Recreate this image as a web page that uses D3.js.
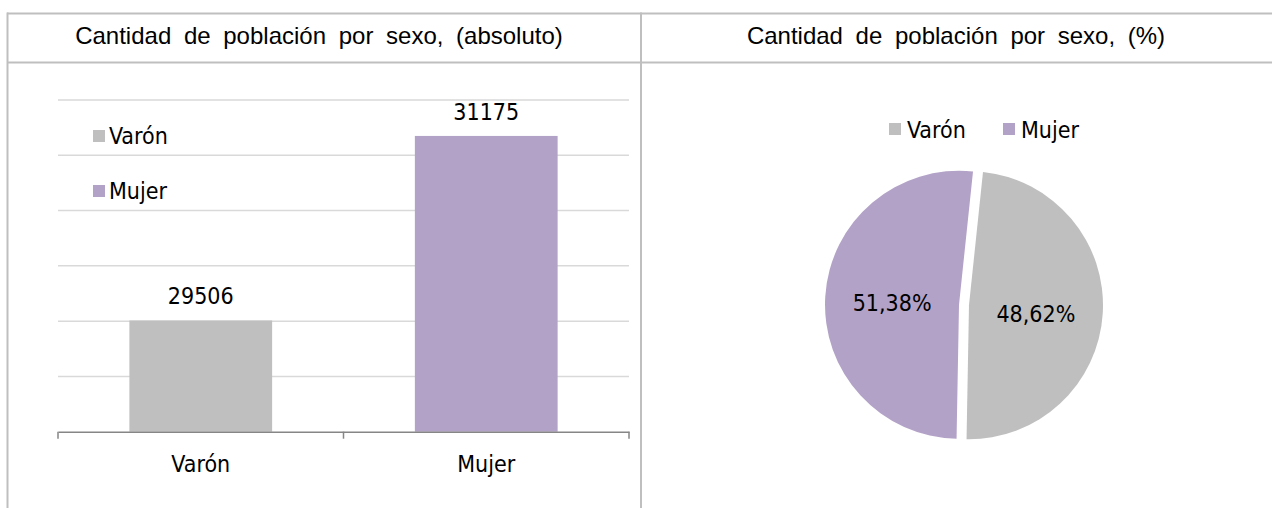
<!DOCTYPE html>
<html>
<head>
<meta charset="utf-8">
<script src="https://cdn.jsdelivr.net/npm/d3@7"></script>
<style>
  html, body { margin: 0; padding: 0; background: #fff; }
  svg { display: block; }
</style>
</head>
<body>
<svg id="chart" width="1272" height="508"></svg>
<script>
// ---- data ----
const titles = ["Cantidad de población por sexo, (absoluto)", "Cantidad de población por sexo, (%)"];
const categories = ["Varón", "Mujer"];
const values = [29506, 31175];
const percentLabels = ["48,62%", "51,38%"];
const yTicks = [28500, 29000, 29500, 30000, 30500, 31000, 31500];
const colors = ["#bfbfbf", "#b3a2c7"];

const svg = d3.select("#chart");
const W = 1272, H = 508;
const labelFont = "'DejaVu Sans Condensed', 'DejaVu Sans', Verdana, sans-serif";
const labelSize = 23;
const titleFont = "'Liberation Sans', Arial, sans-serif";

// ---- table frame ----
const border = "#bfbfbf";
const frame = svg.append("g");
frame.append("line").attr("x1", 7).attr("x2", W).attr("y1", 13.5).attr("y2", 13.5).attr("stroke", border).attr("stroke-width", 2);
frame.append("line").attr("x1", 7).attr("x2", W).attr("y1", 62.5).attr("y2", 62.5).attr("stroke", border).attr("stroke-width", 2);
frame.append("line").attr("x1", 7.5).attr("x2", 7.5).attr("y1", 12.5).attr("y2", H).attr("stroke", border).attr("stroke-width", 2);
frame.append("line").attr("x1", 641).attr("x2", 641).attr("y1", 12.5).attr("y2", H).attr("stroke", border).attr("stroke-width", 2);

// titles
const cellCenters = [319, 956];
titles.forEach((t, i) => {
  svg.append("text")
    .attr("x", cellCenters[i]).attr("y", 44)
    .attr("text-anchor", "middle")
    .attr("font-family", titleFont)
    .attr("font-size", 24)
    .attr("word-spacing", 6)
    .attr("fill", "#000")
    .text(t);
});

// ---- bar chart ----
const bx0 = 58, bx1 = 629, by0 = 431.7, by1 = 100;
const x = d3.scaleBand().domain(categories).range([bx0, bx1]).paddingInner(0.5).paddingOuter(0.25);
const y = d3.scaleLinear().domain([yTicks[0], yTicks[yTicks.length - 1]]).range([by0, by1]);

const bar = svg.append("g");
// gridlines
bar.append("g").selectAll("line").data(yTicks.slice(1)).join("line")
  .attr("x1", bx0).attr("x2", bx1)
  .attr("y1", d => y(d)).attr("y2", d => y(d))
  .attr("stroke", "#d9d9d9").attr("stroke-width", 1.5);

// bars
bar.append("g").selectAll("rect").data(values).join("rect")
  .attr("x", (d, i) => x(categories[i]))
  .attr("width", x.bandwidth())
  .attr("y", d => y(d))
  .attr("height", d => y(yTicks[0]) - y(d))
  .attr("fill", (d, i) => colors[i]);

// x axis
const xAxis = d3.axisBottom(x).tickSize(0).tickPadding(24);
const gx = bar.append("g").attr("transform", `translate(0,${by0})`).call(xAxis);
gx.select(".domain").attr("stroke", "#868686").attr("stroke-width", 1.5);
gx.selectAll("text").attr("font-family", labelFont).attr("font-size", labelSize).attr("fill", "#000");
// category boundary ticks
const boundaries = [bx0, (bx0 + bx1) / 2, bx1];
bar.append("g").selectAll("line").data(boundaries).join("line")
  .attr("x1", d => d).attr("x2", d => d)
  .attr("y1", by0).attr("y2", by0 + 7)
  .attr("stroke", "#868686").attr("stroke-width", 1.5);

// value labels
bar.append("g").selectAll("text").data(values).join("text")
  .attr("x", (d, i) => x(categories[i]) + x.bandwidth() / 2)
  .attr("y", d => y(d) - 16)
  .attr("text-anchor", "middle")
  .attr("font-family", labelFont).attr("font-size", labelSize).attr("fill", "#000")
  .text(d => d);

// bar legend
const lg = bar.append("g");
categories.forEach((c, i) => {
  const ly = 136 + i * 55;
  lg.append("rect").attr("x", 93).attr("y", ly - 6).attr("width", 12).attr("height", 12).attr("fill", colors[i]);
  lg.append("text").attr("x", 109).attr("y", ly + 8)
    .attr("font-family", labelFont).attr("font-size", labelSize).attr("fill", "#000").text(c);
});

// ---- pie chart ----
const cx = 964, cy = 305, R = 134;
const startDeg = 6;
const pie = d3.pie().sort(null)
  .startAngle(startDeg * Math.PI / 180)
  .endAngle(startDeg * Math.PI / 180 + 2 * Math.PI);
const arcs = pie(values);
const arc = d3.arc().innerRadius(0).outerRadius(R);
const explode = 5;
const pg = svg.append("g").attr("transform", `translate(${cx},${cy})`);
pg.selectAll("path").data(arcs).join("path")
  .attr("transform", d => {
    const a = (d.startAngle + d.endAngle) / 2;
    return `translate(${explode * Math.sin(a)},${-explode * Math.cos(a)})`;
  })
  .attr("d", arc)
  .attr("fill", (d, i) => colors[i]);

const labelArc = d3.arc().innerRadius(72).outerRadius(72);
const labelDy = [5, 2];
pg.selectAll("text").data(arcs).join("text")
  .attr("transform", (d, i) => {
    const c = labelArc.centroid(d);
    return `translate(${c[0]},${c[1] + labelDy[i]})`;
  })
  .attr("dy", "0.35em")
  .attr("text-anchor", "middle")
  .attr("font-family", labelFont).attr("font-size", labelSize).attr("fill", "#000")
  .text((d, i) => percentLabels[i]);

// pie legend
const plg = svg.append("g");
const legX = [889, 1003];
categories.forEach((c, i) => {
  plg.append("rect").attr("x", legX[i]).attr("y", 123).attr("width", 12).attr("height", 12).attr("fill", colors[i]);
  plg.append("text").attr("x", legX[i] + 18).attr("y", 138)
    .attr("font-family", labelFont).attr("font-size", labelSize).attr("fill", "#000").text(c);
});
</script>
</body>
</html>
